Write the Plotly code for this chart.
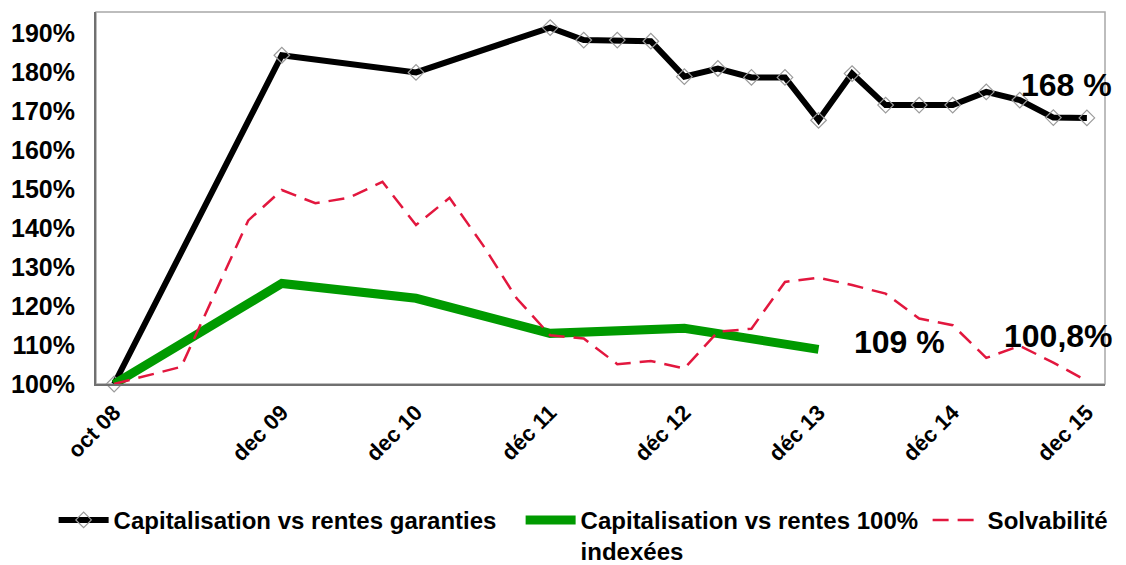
import plotly.graph_objects as go

# Quarter index (0 = oct 08, 29 = dec 15)
tick_pos = [0, 5, 9, 13, 17, 21, 25, 29]
tick_text = ["oct 08", "dec 09", "dec 10", "déc 11", "déc 12", "déc 13", "déc 14", "dec 15"]

cap_gar_x = [0, 5, 9, 13, 14, 15, 16, 17, 18, 19, 20, 21, 22, 23, 24, 25, 26, 27, 28, 29]
cap_gar_y = [100, 184.4, 180.0, 191.5, 188.3, 188.3, 188.0, 178.9, 181.0, 178.7, 178.7,
             167.7, 179.7, 171.6, 171.6, 171.6, 175.0, 172.9, 168.4, 168.3]

cap_idx_x = [0, 5, 9, 13, 17, 21]
cap_idx_y = [100, 125.8, 122.0, 113.0, 114.3, 108.9]

solv_x = [0, 2, 4, 5, 6, 7, 8, 9, 10, 11, 12, 13, 14, 15, 16, 17, 18, 19, 20, 21,
          22, 23, 24, 25, 26, 27, 28, 29]
solv_y = [100, 104.4, 142.0, 149.8, 146.4, 147.8, 151.9, 140.8, 147.8, 135.6, 122.0,
          112.5, 111.7, 105.1, 105.9, 104.0, 113.4, 114.2, 126.2, 127.3, 125.4, 123.2,
          116.8, 115.1, 106.7, 109.8, 105.5, 100.8]

labels = [("168 %", 28.4, 176.7), ("109 %", 23.4, 110.8), ("100,8%", 28.15, 112.3)]

FONT = "Arial, Liberation Sans, sans-serif"

fig = go.Figure()
fig.add_trace(go.Scatter(
    x=cap_gar_x, y=cap_gar_y, mode="lines+markers",
    name="Capitalisation vs rentes garanties",
    line=dict(color="#000000", width=6),
    marker=dict(symbol="diamond-open", size=12, color="#9a9a9a", line=dict(width=1.2)),
    cliponaxis=False, legendwidth=402,
))
fig.add_trace(go.Scatter(
    x=cap_idx_x, y=cap_idx_y, mode="lines",
    name="Capitalisation vs rentes 100%<br>indexées",
    line=dict(color="#009a00", width=9), legendwidth=342,
))
fig.add_trace(go.Scatter(
    x=solv_x, y=solv_y, mode="lines",
    name="Solvabilité",
    line=dict(color="#e2173e", width=2.5, dash="16px,9px"),
))

for txt, lx, ly in labels:
    fig.add_annotation(x=lx, y=ly, text="<b>" + txt + "</b>", showarrow=False,
                       xanchor="center", yanchor="middle",
                       font=dict(family=FONT, size=32, color="#000000"))

fig.update_layout(
    width=1118, height=557,
    margin=dict(l=88, r=21, t=4, b=181, autoexpand=False),
    paper_bgcolor="#ffffff", plot_bgcolor="#ffffff",
    font=dict(family=FONT, color="#000000"),
    showlegend=True,
    legend=dict(orientation="h", x=-0.042, xanchor="left", y=-0.306, yanchor="top",
                font=dict(family=FONT, size=24, color="#000000", weight="bold"),
                valign="top", itemwidth=50, tracegroupgap=0),
    xaxis=dict(range=[-0.54, 29.54], tickmode="array", tickvals=tick_pos,
               ticktext=["<b>" + t + "</b>" for t in tick_text], tickangle=-45,
               tickfont=dict(family=FONT, size=22, color="#000000"),
               showgrid=False, zeroline=False, showline=True, linecolor="#707070",
               linewidth=2, mirror=False, ticks="", automargin=False,
               ticklabelstandoff=5),
    yaxis=dict(range=[100, 195.5], tickmode="array", tickvals=list(range(100, 191, 10)),
               ticktext=["<b>%d%%</b>" % v for v in range(100, 191, 10)],
               tickfont=dict(family=FONT, size=25, color="#000000"),
               showgrid=False, zeroline=False, showline=True, linecolor="#707070",
               linewidth=2, mirror=False, ticks="", automargin=False,
               ticklabelstandoff=14),
)
fig.add_shape(type="rect", xref="paper", yref="paper", x0=0, y0=0, x1=1, y1=1,
              line=dict(color="#a8a8a8", width=1.5), layer="below")

fig.write_html("out.html")
